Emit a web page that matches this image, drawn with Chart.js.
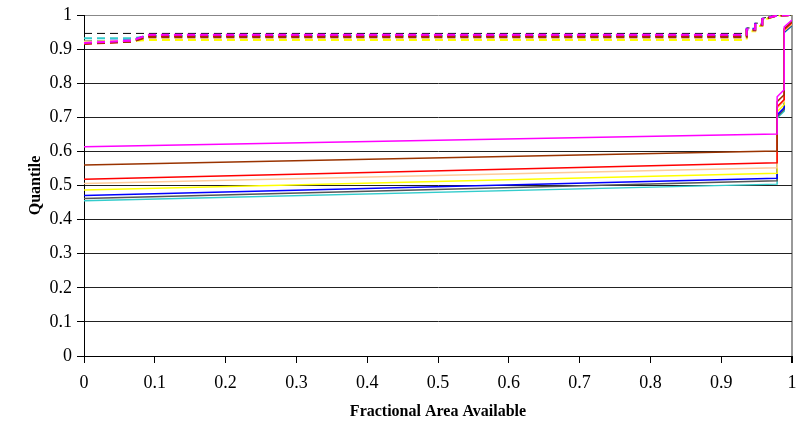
<!DOCTYPE html>
<html>
<head>
<meta charset="utf-8">
<script src="https://cdn.jsdelivr.net/npm/chart.js@4"></script>
<style>
  html, body { margin: 0; padding: 0; background: #fff; }
  #wrap { width: 797px; height: 425px; }
</style>
</head>
<body>
<div id="wrap"><canvas id="quantileChart" width="797" height="425"></canvas></div>
<script>
// Quantile vs fractional area - one solid (low) and one dashed (high) curve per series
const xTicks = [0, 0.1, 0.2, 0.3, 0.4, 0.5, 0.6, 0.7, 0.8, 0.9, 1];
const yTicks = [0, 0.1, 0.2, 0.3, 0.4, 0.5, 0.6, 0.7, 0.8, 0.9, 1];

const seriesNames = ['magenta', 'brown', 'red', 'peach', 'yellow', 'blue', 'gray', 'cyan'];
const seriesColors = ['#ff00ff', '#993300', '#ff0000', '#ffcc99', '#ffff00', '#0000ff', '#555555', '#33cccc'];

// solid curves
const xLow = [0, 0.979, 0.979, 0.989, 0.989, 1];
const lowMagenta = [0.614, 0.651, 0.760, 0.781, 0.965, 0.985];
const lowBrown   = [0.560, 0.601, 0.746, 0.766, 0.960, 0.980];
const lowRed     = [0.518, 0.567, 0.731, 0.752, 0.957, 0.977];
const lowPeach   = [0.506, 0.552, 0.727, 0.747, 0.955, 0.975];
const lowYellow  = [0.487, 0.536, 0.716, 0.737, 0.953, 0.973];
const lowBlue    = [0.471, 0.521, 0.707, 0.728, 0.951, 0.971];
const lowGray    = [0.462, 0.514, 0.702, 0.723, 0.950, 0.970];
const lowCyan    = [0.455, 0.504, 0.698, 0.718, 0.948, 0.968];

// dashed curves
const xHigh = [0, 0.068, 0.09, 0.936, 0.936, 0.948, 0.948, 0.958, 0.958, 0.978, 1];
const highMagenta = [0.918, 0.925, 0.942, 0.942, 0.958, 0.958, 0.972, 0.972, 0.988, 0.998, 1.0];
const highBrown   = [0.916, 0.922, 0.935, 0.935, 0.955, 0.955, 0.970, 0.970, 0.986, 0.998, 1.0];
const highRed     = [0.915, 0.922, 0.938, 0.938, 0.956, 0.956, 0.971, 0.971, 0.987, 0.998, 1.0];
const highPeach   = [0.920, 0.925, 0.934, 0.934, 0.954, 0.954, 0.969, 0.969, 0.985, 0.998, 1.0];
const highYellow  = [0.922, 0.924, 0.927, 0.927, 0.952, 0.952, 0.968, 0.968, 0.984, 0.998, 1.0];
const highBlue    = [0.922, 0.926, 0.940, 0.940, 0.960, 0.960, 0.974, 0.974, 0.989, 0.998, 1.0];
const highGray    = [0.946, 0.946, 0.946, 0.946, 0.962, 0.962, 0.976, 0.976, 0.990, 1.0, 1.0];
const highCyan    = [0.932, 0.932, 0.938, 0.938, 0.957, 0.957, 0.973, 0.973, 0.988, 0.998, 1.0];

const lowSeries = [lowMagenta, lowBrown, lowRed, lowPeach, lowYellow, lowBlue, lowGray, lowCyan];
const highSeries = [highMagenta, highBrown, highRed, highPeach, highYellow, highBlue, highGray, highCyan];

function toPoints(xs, ys) { return xs.map((x, i) => ({ x: x, y: ys[i] })); }

const datasets = [];
highSeries.forEach((ys, i) => {
  const gray = seriesNames[i] === 'gray';
  datasets.push({
    label: seriesNames[i] + ' high',
    data: toPoints(xHigh, ys),
    borderColor: gray ? '#000000' : seriesColors[i],
    borderWidth: gray ? 1 : 2,
    borderDash: [8, 5],
    pointRadius: 0,
    tension: 0
  });
});
lowSeries.forEach((ys, i) => {
  datasets.push({
    label: seriesNames[i] + ' low',
    data: toPoints(xLow, ys),
    borderColor: seriesColors[i],
    borderWidth: 1.5,
    pointRadius: 0,
    tension: 0
  });
});

const serif = 'Liberation Serif, Times New Roman, serif';

new Chart(document.getElementById('quantileChart'), {
  type: 'line',
  data: { datasets: datasets },
  options: {
    responsive: false,
    animation: false,
    layout: { padding: { top: 15, right: 5, left: 22, bottom: 0 } },
    plugins: { legend: { display: false }, tooltip: { enabled: false } },
    scales: {
      x: {
        type: 'linear',
        min: 0, max: 1,
        afterBuildTicks: s => { s.ticks = xTicks.map(v => ({ value: v })); },
        afterFit: s => { s.height = 69; s.paddingLeft = 0; s.paddingRight = 0; },
        border: { color: '#000', width: 1 },
        grid: {
          drawOnChartArea: true,
          color: c => c.tick && c.tick.value === 1 ? '#999999' : 'rgba(0,0,0,0)',
          lineWidth: c => c.tick && c.tick.value === 1 ? 2 : 1,
          tickColor: '#000',
          tickLength: 7
        },
        ticks: {
          color: '#000',
          font: { family: serif, size: 18 },
          padding: 9,
          maxRotation: 0,
          callback: v => String(v)
        },
        title: {
          display: true,
          text: 'Fractional Area Available',
          color: '#000',
          font: { family: serif, size: 16, weight: 'bold' },
          padding: { top: 2 }
        }
      },
      y: {
        min: 0, max: 1,
        afterBuildTicks: s => { s.ticks = yTicks.map(v => ({ value: v })); },
        afterFit: s => { s.width = 62; s.paddingTop = 0; s.paddingBottom = 0; },
        border: { color: '#000', width: 1 },
        grid: {
          color: c => c.tick && c.tick.value === 1 ? '#888888' : '#222222',
          lineWidth: 1,
          tickColor: '#000',
          tickLength: 7
        },
        ticks: {
          color: '#000',
          font: { family: serif, size: 18 },
          padding: 5,
          callback: v => String(v)
        },
        title: {
          display: true,
          text: 'Quantile',
          color: '#000',
          font: { family: serif, size: 16, weight: 'bold' },
          padding: { bottom: 0 }
        }
      }
    }
  }
});
</script>
</body>
</html>
